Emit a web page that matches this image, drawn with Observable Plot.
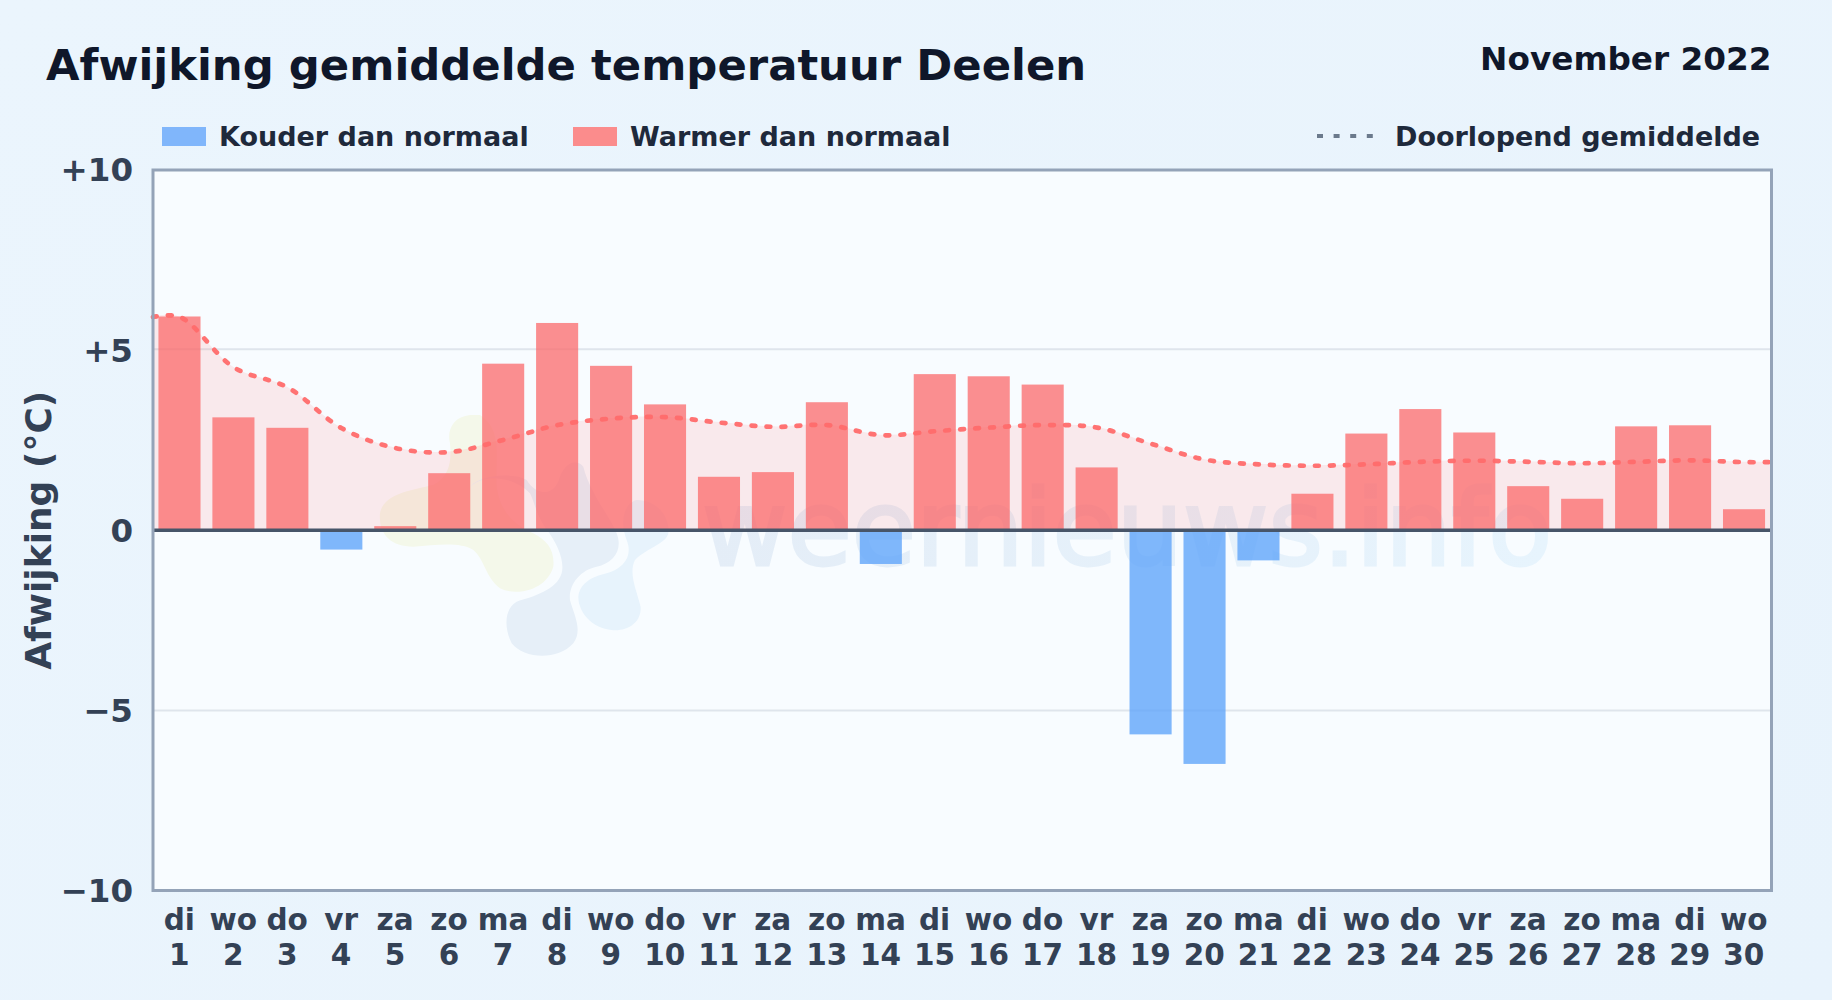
<!DOCTYPE html>
<html lang="nl">
<head>
<meta charset="utf-8">
<script src="https://cdn.jsdelivr.net/npm/d3@7"></script>
<script src="https://cdn.jsdelivr.net/npm/@observablehq/plot@0.6"></script>
<style>
  html, body { margin: 0; padding: 0; width: 1832px; height: 1000px; overflow: hidden;
    background: linear-gradient(135deg, #ebf5fd, #e8f3fc); font-family: "DejaVu Sans", sans-serif; font-weight: 700; }
  #header { position: relative; width: 1832px; height: 150px; }
  #header > * { position: absolute; white-space: nowrap; }
  #title { left: 46px; top: 39px; font-size: 43.35px; line-height: 52px; color: #0f172a; }
  #period { right: 60.5px; top: 40px; font-size: 32.7px; line-height: 38px; color: #0f172a; }
  .leg { top: 121px; font-size: 27px; line-height: 32px; color: #1e293b; }
  .sw { top: 127px; width: 43.5px; height: 19px; }
  #chart { display: block; }
  #chart svg { display: block; }
</style>
</head>
<body>
<div id="header">
  <div id="title">Afwijking gemiddelde temperatuur Deelen</div>
  <div id="period">November 2022</div>
  <div class="sw" style="left:162px;background:#80b6fb"></div>
  <div class="leg" style="left:219px">Kouder dan normaal</div>
  <div class="sw" style="left:573px;background:#fb8c8c"></div>
  <div class="leg" style="left:630px">Warmer dan normaal</div>
  <svg style="left:1317px;top:130px" width="60" height="12"><line x1="0" x2="60" y1="6" y2="6" stroke="#6b7a8c" stroke-width="4" stroke-dasharray="6 10.6"/></svg>
  <div class="leg" style="left:1395px">Doorlopend gemiddelde</div>
</div>
<div id="chart"></div>
<script>
const weekdays = ["di","wo","do","vr","za","zo","ma","di","wo","do","vr","za","zo","ma","di","wo","do","vr","za","zo","ma","di","wo","do","vr","za","zo","ma","di","wo"];
const days = [1,2,3,4,5,6,7,8,9,10,11,12,13,14,15,16,17,18,19,20,21,22,23,24,25,26,27,28,29,30];
const deviations = [5.92,3.12,2.83,-0.55,0.1,1.57,4.61,5.74,4.55,3.48,1.47,1.6,3.54,-0.95,4.32,4.26,4.03,1.73,-5.68,-6.5,-0.85,1.0,2.67,3.35,2.7,1.21,0.86,2.87,2.9,0.57];
const lineDays = [0.5,1,2,3,4,5,6,7,8,9,10,11,12,13,14,15,16,17,18,19,20,21,22,23,24,25,26,27,28,29,30,30.5];
const runningMean = [5.92,5.92,4.52,3.96,2.83,2.28,2.17,2.51,2.92,3.10,3.14,2.99,2.87,2.92,2.64,2.75,2.85,2.92,2.85,2.40,1.96,1.83,1.79,1.83,1.90,1.93,1.90,1.86,1.90,1.94,1.89,1.89];
const yTicks = [-10,-5,0,5,10];

const COLD = "#60a5fa", WARM = "#fb6a6b", INK = "#334155";
const bars = days.map((day, i) => ({day, value: deviations[i]}));
const mean = lineDays.map((day, i) => ({day, value: runningMean[i]}));
const CURVE = "catmull-rom";

// Faint site logo and name behind the data
function watermark(index, scales, values, dims) {
  const ns = "http://www.w3.org/2000/svg";
  const g = document.createElementNS(ns, "g");
  g.innerHTML = `
    <defs><linearGradient id="wm" gradientUnits="userSpaceOnUse" x1="700" x2="1550" y1="0" y2="0">
      <stop offset="0" stop-color="#e4edf7"/><stop offset="1" stop-color="#e7f4fd"/></linearGradient></defs>
    <g transform="translate(370,250) scale(0.3333)">
      <path fill="#f4f8ea" d="M300 45C250 50 230 90 240 130C245 180 240 230 190 255C130 270 40 280 30 340C25 400 60 440 130 440C200 435 270 425 310 450C345 480 345 530 390 565C440 590 530 570 550 500C555 450 530 420 490 400C440 380 390 340 380 260C375 170 400 90 330 45Z"/>
      <path fill="#e6eff8" d="M300 260C350 215 440 235 480 280C495 310 500 350 535 395C560 430 585 480 575 520C560 570 490 590 440 605C405 625 400 680 425 730C460 775 560 785 610 730C640 690 610 640 600 600C595 555 630 510 680 500C730 490 760 450 740 400C720 350 660 280 640 200C625 180 590 180 570 230C555 290 500 290 470 240C440 220 340 220 300 260Z"/>
      <path fill="#e7f3fc" d="M800 300C860 300 900 350 895 400C890 430 830 445 795 480C775 520 800 570 812 620C815 670 770 695 725 690C670 685 625 640 625 590C630 550 665 530 710 520C760 505 790 470 770 420C750 370 760 310 800 300Z"/>
    </g>
    <text x="702" y="415" text-anchor="start" font-family="DejaVu Sans" font-size="104.5" font-weight="400" fill="url(#wm)" stroke="url(#wm)" stroke-width="3">weernieuws.info</text>`;
  return g;
}

const plot = Plot.plot({
  width: 1832,
  height: 850,
  marginLeft: 152.5,
  marginRight: 61,
  marginTop: 19.5,
  marginBottom: 110,
  style: {background: "transparent", fontFamily: "DejaVu Sans", fontWeight: 700, overflow: "visible"},
  x: {domain: [0.5, 30.5]},
  y: {domain: [-10, 10]},
  marks: [
    Plot.frame({fill: "#f8fcff", stroke: null}),
    Plot.ruleY([-5], {stroke: "#dfe5ec", strokeWidth: 2}),
    Plot.ruleY([5], {stroke: "#dfe5ec", strokeWidth: 2, dy: -1}),
    watermark,
    Plot.areaY(mean, {x: "day", y: "value", curve: CURVE, fill: "#ff6b6b", fillOpacity: 0.13}),
    Plot.rectY(bars, {
      x1: d => d.day - 0.39, x2: d => d.day + 0.39, y1: 0, y2: "value",
      fill: d => d.value < 0 ? COLD : WARM,
      fillOpacity: d => d.value < 0 ? 0.8 : 0.75
    }),
    Plot.lineY(mean, {x: "day", y: "value", curve: CURVE, stroke: "#ff6b6b", strokeOpacity: 0.95, strokeWidth: 4.7,
      strokeDasharray: "3.8 11.2", strokeLinecap: "round"}),
    Plot.ruleY([0], {stroke: "#475569", strokeWidth: 3.5}),
    Plot.frame({stroke: "#94a3b8", strokeWidth: 3}),
    Plot.axisY({
      ticks: yTicks, tickSize: 0, tickPadding: 20, fontSize: 32.5, fill: INK, label: null, dy: 1,
      tickFormat: d => d > 0 ? `+${d}` : d < 0 ? `\u2212${-d}` : "0"
    }),
    Plot.axisX({
      ticks: days, tickSize: 0, tickPadding: 15, fontSize: 29.5, fill: INK, label: null, lineHeight: 1.18,
      tickFormat: d => `${weekdays[d - 1]}\n${d}`, dx: -0.7
    }),
    Plot.text(["Afwijking (\u00b0C)"], {
      frameAnchor: "left", textAnchor: "middle", rotate: -90, dx: -114, fontSize: 36, fill: INK, text: d => d
    })
  ]
});
document.getElementById("chart").append(plot);
</script>
</body>
</html>
